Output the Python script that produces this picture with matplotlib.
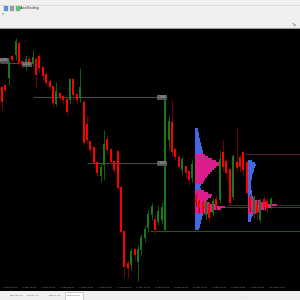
import numpy as np
import matplotlib.pyplot as plt
from matplotlib.patches import Rectangle

# candles (price units, index = bar number)
opens  = [212, 214, 222, 243, 245, 256, 238, 235, 240, 236, 240, 243, 232, 225, 218, 213, 196, 206, 203, 200,
          200, 220, 205, 202, 197, 175, 158, 152, 137, 124, 135, 160, 150, 138, 148, 112, 68, 36, 35, 50,
          38, 50, 62, 72, 85, 80, 78, 80, 70, 160, 177, 150, 142, 130, 133, 128, 122, 103, 98, 97,
          85, 95, 87, 100, 100, 147, 138, 130, 103, 137, 142, 147, 137, 103, 87, 95, 80, 100, 98, 95]
closes = [198, 210, 237, 240, 258, 237, 235, 240, 238, 242, 225, 232, 224, 217, 213, 197, 208, 203, 200, 188,
          220, 205, 200, 212, 157, 160, 150, 137, 127, 132, 155, 150, 138, 130, 112, 68, 33, 32, 48, 45,
          50, 62, 70, 85, 93, 70, 88, 92, 203, 178, 148, 143, 133, 140, 127, 120, 135, 97, 92, 88,
          97, 82, 98, 94, 140, 133, 127, 97, 143, 132, 133, 130, 107, 93, 102, 87, 98, 93, 92, 100]
highs  = [214, 216, 240, 245, 262, 260, 240, 245, 243, 250, 244, 246, 234, 228, 220, 214, 218, 208, 205, 202,
          222, 222, 207, 232, 200, 185, 160, 154, 139, 137, 170, 165, 152, 140, 150, 114, 70, 40, 52, 52,
          55, 66, 75, 90, 97, 85, 95, 98, 203, 185, 200, 152, 145, 143, 135, 130, 140, 106, 100, 99,
          100, 97, 102, 105, 150, 160, 142, 133, 146, 172, 145, 150, 140, 106, 105, 100, 102, 104, 102, 103]
lows   = [190, 208, 215, 236, 240, 234, 232, 230, 236, 234, 213, 228, 220, 214, 210, 193, 194, 200, 196, 185,
          196, 200, 196, 198, 155, 157, 146, 133, 124, 118, 120, 145, 135, 127, 110, 66, 23, 22, 30, 40,
          19, 45, 58, 68, 80, 66, 75, 76, 68, 150, 145, 140, 135, 125, 122, 115, 118, 94, 88, 84,
          80, 78, 84, 90, 97, 128, 122, 95, 100, 128, 128, 125, 105, 88, 82, 80, 78, 90, 88, 92]

# market profiles: top price, step 2, volumes, value area flags
prof1_start = 56.8
prof1_top = 171
prof1_vol = [3, 3, 4, 4, 4, 5, 5, 6, 6, 7, 7, 8, 8,
             10, 13, 17, 21, 25, 24, 21, 19, 17, 15, 13, 12, 10, 9, 8,
             6, 5, 6,
             9, 13, 17, 16, 13, 12, 15, 21, 30, 26, 19, 13,
             8, 7, 7, 6, 6, 5, 5, 4]
prof1_va = [0] * 13 + [1] * 15 + [0] * 3 + [1] * 12 + [0] * 8

prof2_start = 72.4
prof2_top = 139
prof2_vol = [4, 7, 8, 7, 6, 6, 5, 4, 4, 4, 3, 3, 3, 3, 3, 4, 4, 4, 5,
             7, 12, 19, 29, 24, 18, 13, 8,
             5, 4, 3, 3]
prof2_va = [0] * 19 + [1] * 8 + [0] * 4

time_labels = ["3 Sep 08:00", "3 Sep 16:00", "4 Sep 00:00", "4 Sep 08:00", "4 Sep 16:00",
               "7 Sep 00:00", "7 Sep 08:00", "7 Sep 16:00", "8 Sep 00:00", "8 Sep 08:00",
               "8 Sep 16:00", "9 Sep 00:00", "9 Sep 08:00", "9 Sep 16:00", "10 Sep 00:00"]
tabs = ["", "GBPUSD,H1", "USDJPY,H1", "EURJPY,H1", "EURUSD,H1"]

px = 3.4  # pixels per bar
fig = plt.figure(figsize=(3, 3), dpi=100, facecolor='#f0f0f0')
ax = fig.add_axes([0, 9 / 300, 1, 263 / 300])
ax.set_facecolor('black')
ax.set_xlim(-0.6, 300 / px - 0.6)
ax.set_ylim(9, 272)
ax.set_xticks([])
ax.set_yticks([])
for s in ax.spines.values():
    s.set_visible(False)

def xp(pix):
    return (pix - 2) / px

# profiles
for start, top, vol, va in [(prof1_start, prof1_top, prof1_vol, prof1_va),
                            (prof2_start, prof2_top, prof2_vol, prof2_va)]:
    lv = top - 2 * np.arange(len(vol))
    cols = ['#dc1e8c' if v else '#4169e1' for v in va]
    ax.barh(lv, np.array(vol) / px, left=start, height=2.0, color=cols, linewidth=0, zorder=2)

# level lines
ax.hlines(203, xp(33), xp(167), color='#4a4a4a', lw=0.8, zorder=1)
ax.hlines(137, xp(87), xp(167), color='#4a4a4a', lw=0.8, zorder=1)
ax.hlines(237, xp(0), xp(33), color='#4a4a4a', lw=0.8, zorder=1)
ax.hlines(69, xp(150), xp(300), color='#1c5a1c', lw=0.8, zorder=1)
ax.hlines(146, xp(245), xp(300), color='#5a1438', lw=0.8, zorder=1)
ax.hlines(93, xp(195), xp(300), color='#2c4a2c', lw=0.8, zorder=1)
ax.hlines(95, xp(227), xp(300), color='#3a3a3a', lw=0.6, zorder=1)
for lx, ly, t in [(162, 203, '1.1950'), (162, 137, '1.1820'), (27, 236, '1.2010'), (4, 240, '1.2015')]:
    ax.text(xp(lx), ly, t, fontsize=1.8, color='#cfcfcf', ha='center', va='center', zorder=5,
            bbox=dict(boxstyle='square,pad=0.2', fc='#555555', ec='none'))

# candles
o = np.array(opens); c = np.array(closes)
idx = np.arange(len(o))
up = c >= o
ax.vlines(idx[up], np.array(lows)[up], np.array(highs)[up], color='#145c14', lw=0.7, zorder=3)
ax.vlines(idx[~up], np.array(lows)[~up], np.array(highs)[~up], color='#7a0000', lw=0.7, zorder=3)
ax.bar(idx, np.abs(c - o) + 0.6, bottom=np.minimum(o, c), width=0.6,
       color=np.where(up, '#157a15', '#ff0000'), linewidth=0, zorder=4)

# time axis labels
for k, t in enumerate(time_labels):
    ax.text(k * 5.6 + 0.2, 12, t, fontsize=1.7, color='#9a9a9a', va='center', ha='left', zorder=5)

# toolbar
fig.add_artist(plt.Line2D([0, 1], [1 - 5 / 300, 1 - 5 / 300], color='#d6d6d6', lw=0.6))
fig.add_artist(plt.Line2D([0, 1], [1 - 27.5 / 300, 1 - 27.5 / 300], color='#9a9a9a', lw=0.8))
for ix, col in [(4, '#5b8fd8'), (10, '#9a9a9a'), (16, '#5cbf7a')]:
    fig.add_artist(Rectangle((ix / 300, 1 - 9.5 / 300), 3 / 300, 3 / 300, color=col))
fig.text(20 / 300, 1 - 8 / 300, 'AutoTrading', fontsize=2.4, color='#333333', va='center')
fig.text(2 / 300, 1 - 14 / 300, '\u25be', fontsize=2.5, color='#555555', va='center')
fig.text(292 / 300, 1 - 24.5 / 300, 'Ta', fontsize=2.8, color='#777777', va='center')

# tabs
tab_x = [0, 8, 25, 47, 65]
for k, (tx, t) in enumerate(zip(tab_x, tabs)):
    if k == len(tabs) - 1:
        fig.add_artist(Rectangle((tx / 300, 0.5 / 300), 18 / 300, 8 / 300, fc='white', ec='#aaaaaa', lw=0.4))
    fig.text((tx + 1.5) / 300, 4.5 / 300, t, fontsize=1.7, color='#666666', va='center')
fig.text(240 / 300, 2.5 / 300, '. . . . . .', fontsize=2, color='#888888', va='center')

fig.savefig('out.png', dpi=100, facecolor=fig.get_facecolor())
